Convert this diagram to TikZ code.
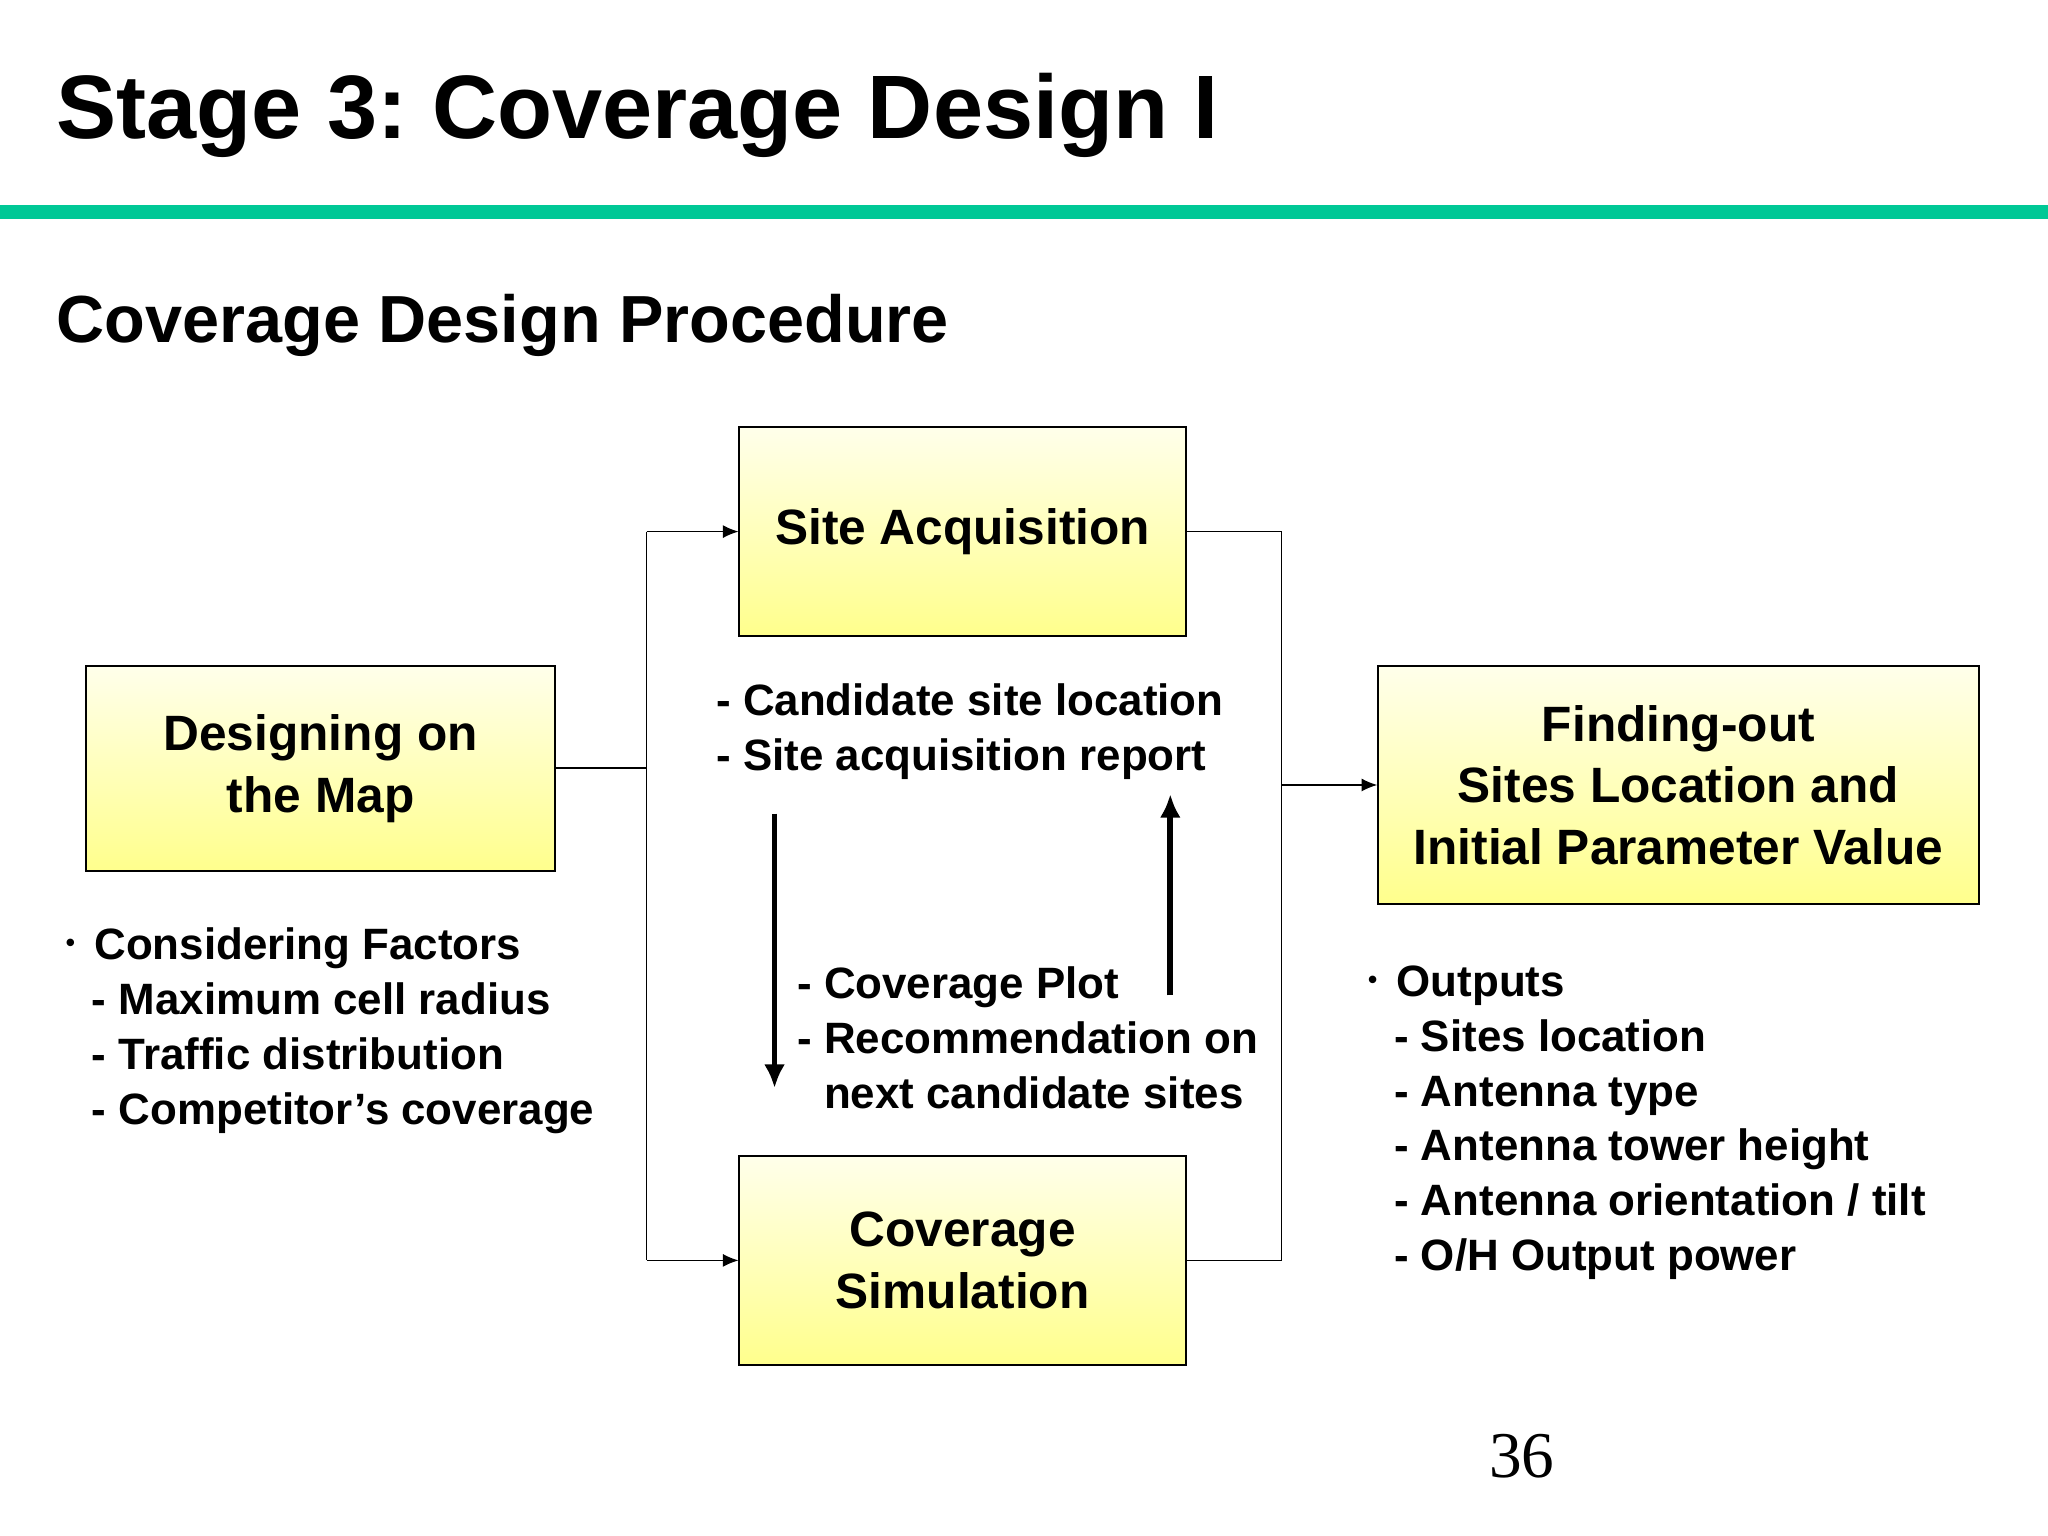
\documentclass[tikz,border=0pt]{standalone}
\usepackage{fontspec}
\setmainfont{Liberation Sans}
\newfontfamily\serifnum{Liberation Serif}
\usetikzlibrary{arrows.meta}
\definecolor{bar}{RGB}{0,200,150}
\frenchspacing
\tikzset{
  box/.style={draw,line width=0.6pt,top color=yellow!8,bottom color=yellow!45,inner sep=0pt,align=center,font=\fontsize{19}{23.5}\selectfont\bfseries},
  conn/.style={line width=0.5pt},
  thinarr/.style={conn,-{Latex[length=6pt,width=5pt]}},
  thickarr/.style={line width=2.2pt,-{Latex[length=9pt,width=8pt]}},
  txt/.style={anchor=north west,align=left,inner sep=0pt,font=\fontsize{16.8}{21}\selectfont\bfseries}
}
\begin{document}
\begin{tikzpicture}[x=0.5pt,y=-0.5pt]
\useasboundingbox (0,0) rectangle (1568,1176);
\fill[white] (0,0) rectangle (1568,1176);
\node[anchor=west,inner sep=0pt,font=\fontsize{34.5}{40}\selectfont\bfseries] (title) at (43,88) {Stage 3: Coverage Design I};
\fill[bar] (0,157) rectangle (1568,168);
\node[anchor=west,inner sep=0pt,font=\fontsize{25.5}{28}\selectfont\bfseries] (sub) at (43,249) {Coverage Design Procedure};

\node[box,minimum width=179.5pt,minimum height=78.5pt] (map) at (245.5,588.5) {Designing on\\the Map};
\node[box,minimum width=171pt,minimum height=80pt] (sa) at (737,407) {Site Acquisition};
\node[box,minimum width=171pt,minimum height=80pt] (cs) at (737,965) {Coverage\\Simulation};
\node[box,minimum width=230pt,minimum height=91pt] (fo) at (1285,601) {Finding-out\\Sites Location and\\Initial Parameter Value};

\coordinate (lx) at (495,588);
\coordinate (lt) at (495,407);
\coordinate (lb) at (495,965);
\coordinate (rt) at (981,407);
\coordinate (rb) at (981,965);
\coordinate (rm) at (981,601);
\draw[conn] (map.east |- lx) -- (lx);
\draw[conn] (lt) -- (lb);
\draw[thinarr] (lt) -- (sa.west);
\draw[thinarr] (lb) -- (cs.west);
\draw[conn] (sa.east) -- (rt) -- (rb) -- (cs.east);
\draw[thinarr] (rm) -- (fo.west);

\coordinate (d1) at (593,623); \coordinate (d2) at (593,833);
\coordinate (u1) at (896,762); \coordinate (u2) at (896,608);
\draw[thickarr] (d1) -- (d2);
\draw[thickarr] (u1) -- (u2);

\node[txt] (t1) at (548,523) {- Candidate site location\\- Site acquisition report};
\node[txt] (t2) at (610,740) {- Coverage Plot\\- Recommendation on\\\hphantom{- }next candidate sites};
\node[txt] (t3) at (50,710) {\raisebox{3pt}{\fontsize{10}{10}\selectfont•}\, Considering Factors\\\hspace{10pt}- Maximum cell radius\\\hspace{10pt}- Traffic distribution\\\hspace{10pt}- Competitor’s coverage};
\node[txt] (t4) at (1047,739) {\raisebox{3pt}{\fontsize{10}{10}\selectfont•}\, Outputs\\\hspace{10pt}- Sites location\\\hspace{10pt}- Antenna type\\\hspace{10pt}- Antenna tower height\\\hspace{10pt}- Antenna orientation / tilt\\\hspace{10pt}- O/H Output power};
\node[inner sep=0pt,font=\serifnum\fontsize{25}{28}\selectfont] (pg) at (1165,1115) {36};
\end{tikzpicture}
\end{document}
